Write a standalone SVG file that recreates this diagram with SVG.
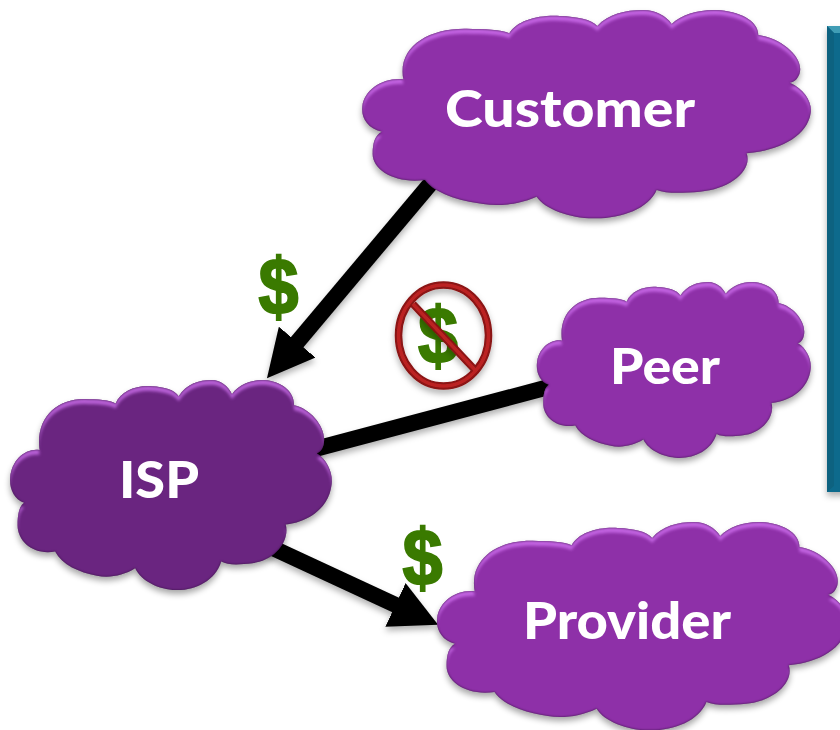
<svg xmlns="http://www.w3.org/2000/svg" width="840" height="730" viewBox="0 0 840 730">
<style>
.lbl{font-family:"Lato","Open Sans","Liberation Sans",sans-serif;font-weight:900;fill:#fff;text-anchor:middle}
.usd{font-family:"Liberation Sans",Arial,sans-serif;font-weight:700;font-size:80px;fill:#3a7a00;stroke:#3a7a00;stroke-width:2px;text-anchor:middle}
.cn{stroke:#000;fill:none}
.cust{fill:#8e30a8}
.isp{fill:#6a2580}
</style>
<defs>
<path id="cloud" d="M130 238C112 140 205 84 320 86C370 87 425 88 448 100C470 62 535 44 600 48C650 50 695 58 712 78C745 42 795 30 850 30C885 30 920 48 935 72C965 42 1020 28 1070 30C1135 33 1195 60 1195 105C1265 115 1328 170 1320 215C1317 233 1305 245 1290 248C1335 268 1358 310 1352 340C1342 408 1260 452 1160 460C1178 512 1110 568 1020 575C970 579 920 582 890 570C865 628 780 657 700 655C630 654 555 628 530 590C480 612 420 620 370 612C295 602 225 580 195 540C105 552 36 510 38 460C38 430 45 405 65 395C22 385 3 352 7 320C13 268 70 232 130 238Z"/>
<marker id="head" markerUnits="userSpaceOnUse" markerWidth="48" markerHeight="48" refX="5" refY="24" orient="auto" viewBox="0 0 48 48">
<path d="M0 0L47 24L0 48Z" fill="#000"/>
</marker>
<filter id="bevel" x="-5%" y="-5%" width="110%" height="115%" color-interpolation-filters="sRGB">
<feGaussianBlur in="SourceAlpha" stdDeviation="1.800" result="b"/>
<feOffset in="b" dy="5" result="o1"/>
<feComposite in="SourceAlpha" in2="o1" operator="out" result="top"/>
<feFlood flood-color="#d878f8" flood-opacity=".7"/>
<feComposite in2="top" operator="in" result="hi"/>
<feGaussianBlur in="SourceAlpha" stdDeviation=".8" result="e"/>
<feComposite in="SourceAlpha" in2="e" operator="out" result="rim"/>
<feFlood flood-color="#30103c" flood-opacity=".9"/>
<feComposite in2="rim" operator="in" result="lo"/>
<feGaussianBlur in="SourceAlpha" stdDeviation="3"/>
<feOffset dy="4"/>
<feComponentTransfer result="sh"><feFuncA type="linear" slope=".35"/></feComponentTransfer>
<feMerge><feMergeNode in="sh"/><feMergeNode in="SourceGraphic"/><feMergeNode in="hi"/><feMergeNode in="lo"/></feMerge>
</filter>
<filter id="soft" x="-20%" y="-20%" width="140%" height="150%">
<feDropShadow dx="0" dy="4" stdDeviation="3" flood-color="#000" flood-opacity=".3"/>
</filter>
</defs>
<rect width="840" height="730" fill="#fff"/>
<g id="panel" filter="url(#soft)">
<rect x="827" y="26" width="30" height="466" fill="#106b8c"/>
<path d="M827 26H840V33H834Z" fill="#3f9db5"/>
<path d="M827 26L834 33V486L827 492Z" fill="#0f6280"/>
</g>
<g id="connectors" filter="url(#soft)">
<line class="cn" x1="431" y1="183" x2="294" y2="346" stroke-width="16" marker-end="url(#head)"/>
<line class="cn" x1="300" y1="453" x2="560" y2="384" stroke-width="16"/>
<line class="cn" x1="262" y1="543" x2="400" y2="607" stroke-width="16" marker-end="url(#head)"/>
</g>
<g id="node-customer">
<g filter="url(#bevel)"><use href="#cloud" class="cust" transform="translate(360 0) scale(.3333)"/></g>
<text class="lbl" x="570" y="127" font-size="52" textLength="250" lengthAdjust="spacingAndGlyphs">Customer</text>
</g>
<g id="node-peer">
<g filter="url(#bevel)"><use href="#cloud" class="cust" transform="translate(535.5 273.5) scale(.2035 .2815)"/></g>
<text class="lbl" x="665" y="384" font-size="49" textLength="110" lengthAdjust="spacingAndGlyphs">Peer</text>
</g>
<g id="node-isp">
<g filter="url(#bevel)"><use href="#cloud" class="isp" transform="translate(8.5 370) scale(.239 .336)"/></g>
<text class="lbl" x="159" y="498" font-size="52" textLength="80" lengthAdjust="spacingAndGlyphs">ISP</text>
</g>
<g id="node-provider">
<g filter="url(#bevel)"><use href="#cloud" class="cust" transform="translate(435 512) scale(.305 .3333)"/></g>
<text class="lbl" x="627" y="639" font-size="52" textLength="208" lengthAdjust="spacingAndGlyphs">Provider</text>
</g>
<g id="dollar-customer"><text class="usd" transform="translate(278.500 314) scale(.9 1)">$</text></g>
<g id="dollar-provider"><text class="usd" transform="translate(422.500 585) scale(.9 1)">$</text></g>
<g id="dollar-peer">
<text class="usd" transform="translate(438 363) scale(.9 1)">$</text>
<g filter="url(#soft)" fill="none">
<ellipse cx="443.500" cy="335.500" rx="45" ry="50.500" stroke="#8a1212" stroke-width="7.500"/>
<line x1="413" y1="304" x2="475" y2="370" stroke="#8a1212" stroke-width="7.500"/>
<ellipse cx="443.500" cy="335.500" rx="45" ry="50.500" stroke="#bb2222" stroke-width="3.500"/>
<line x1="413" y1="304" x2="475" y2="370" stroke="#bb2222" stroke-width="3.500"/>
</g>
</g>
</svg>
